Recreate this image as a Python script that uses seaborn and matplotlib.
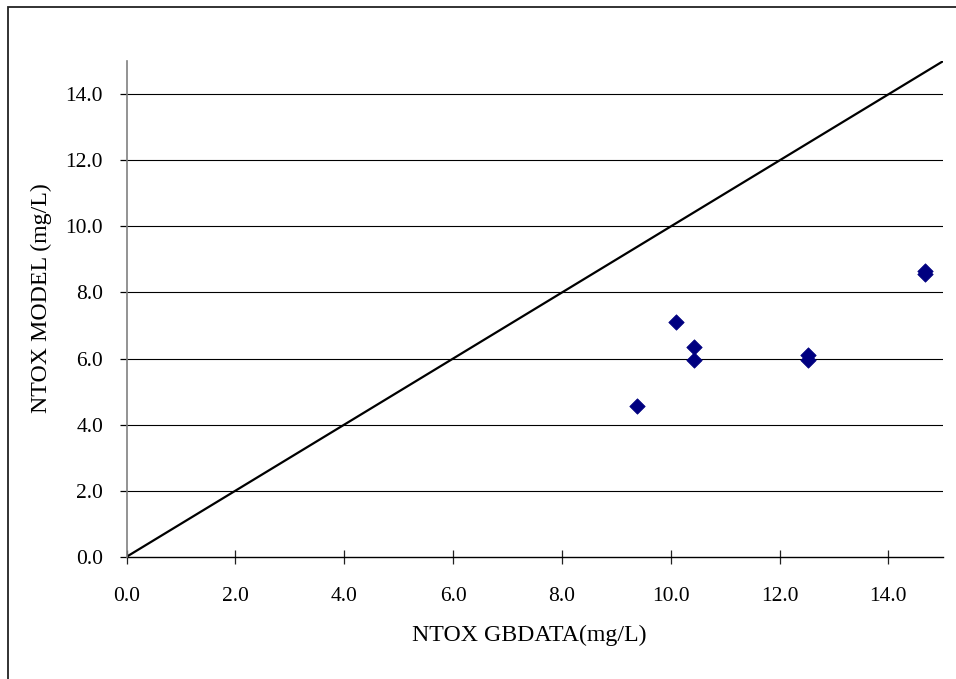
import matplotlib
matplotlib.use("Agg")
import matplotlib.pyplot as plt
import seaborn as sns
import pandas as pd
from matplotlib.patches import Rectangle
from matplotlib.ticker import FormatStrFormatter

# Observed (GBDATA) vs. modelled NTOX concentrations, mg/L
ntox_gbdata = [9.38, 10.10, 10.42, 10.42, 12.52, 12.52, 14.68, 14.68]
ntox_model = [4.55, 7.12, 6.36, 5.95, 6.12, 5.97, 8.65, 8.55]

# 1:1 reference line
line_x = [0.0, 15.0]
line_y = [0.0, 15.0]

tick_values = [0, 2, 4, 6, 8, 10, 12, 14]

sns.set_style("white")
plt.rcParams["font.family"] = ["Liberation Serif", "DejaVu Serif"]
plt.rcParams["text.color"] = "black"
plt.rcParams["axes.labelcolor"] = "black"
plt.rcParams["xtick.color"] = "black"
plt.rcParams["ytick.color"] = "black"

df = pd.DataFrame({"gbdata": ntox_gbdata, "model": ntox_model})
ref = pd.DataFrame({"x": line_x, "y": line_y})

fig = plt.figure(figsize=(9.56, 6.79), dpi=100)
ax = fig.add_axes([0.1325, 0.1801, 0.8537, 0.7296])

# outer chart frame
fig.patches.append(Rectangle((8 / 956, -0.05), 1.2, 1 - 7 / 679 + 0.05,
                             transform=fig.transFigure, fill=False,
                             edgecolor="#222222", linewidth=1.3, zorder=0))

ax.set_xlim(0, 15)
ax.set_ylim(0, 15)
ax.set_xticks(tick_values)
ax.set_yticks(tick_values)
ax.xaxis.set_major_formatter(FormatStrFormatter("%.1f"))
ax.yaxis.set_major_formatter(FormatStrFormatter("%.1f"))

for y in tick_values[1:]:
    ax.axhline(y, color="black", linewidth=0.8, zorder=1)

sns.lineplot(data=ref, x="x", y="y", ax=ax, color="black", linewidth=1.6,
             zorder=2, legend=False)
sns.scatterplot(data=df, x="gbdata", y="model", ax=ax, marker="D",
                color="#000080", edgecolor="#000080", s=62, linewidth=0.5,
                zorder=3, legend=False)

for side in ("top", "right"):
    ax.spines[side].set_visible(False)
ax.spines["left"].set_color("#808080")
ax.spines["left"].set_linewidth(1.2)
ax.spines["bottom"].set_color("black")
ax.spines["bottom"].set_linewidth(1.0)
ax.spines["left"].set_zorder(4)

ax.tick_params(axis="x", direction="inout", length=10, width=0.9,
               color="#222222", pad=17, labelsize=15.5, bottom=True,
               labelcolor="black")
ax.tick_params(axis="y", direction="out", length=5, width=0.9,
               color="black", pad=12, labelsize=15.5, left=True,
               labelcolor="black")

ax.set_xlabel("NTOX GBDATA(mg/L)", fontsize=17.2, color="black")
ax.set_ylabel("NTOX MODEL (mg/L)", fontsize=17.2, color="black")
ax.xaxis.label.set_va("center")
ax.yaxis.label.set_va("center")
ax.xaxis.set_label_coords(0.493, -0.158)
ax.yaxis.set_label_coords(-0.105, 0.522)

fig.savefig("out.png", dpi=100)
